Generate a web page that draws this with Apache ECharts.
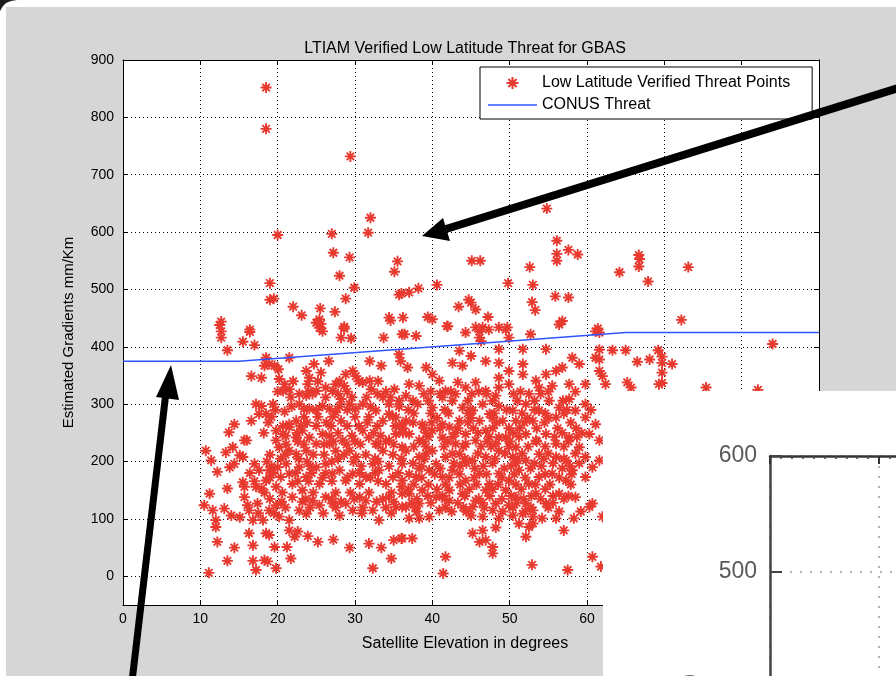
<!DOCTYPE html>
<html>
<head>
<meta charset="utf-8">
<script src="https://cdn.jsdelivr.net/npm/echarts@6/dist/echarts.min.js"></script>
<style>
  html, body { margin: 0; padding: 0; background: #fff; }
  #main { width: 896px; height: 676px; }
</style>
</head>
<body>
<div id="main"></div>
<script>
// sparse points above the CONUS line
const upperPoints = [
  [18.5,852],[18.5,780],[29.4,732],[32.0,625],[31.7,599],[20.0,595],[27.0,597],[27.2,564],[29.3,556],[28.0,524],
  [35.5,549],[35.1,531],[19.0,511],[29.9,503],[19.0,482],[19.5,484],[28.8,484],[35.7,491],[22.0,470],[23.1,455],
  [25.5,467],[25.4,448],[25.0,442],[25.6,440],[27.4,461],[28.6,435],[12.7,444],[12.5,438],[16.4,430],[34.4,451],
  [34.6,446],[36.2,451],
  [54.8,641],[56.1,585],[57.6,569],[58.8,561],[56.1,562],[56.1,550],[52.6,539],[45.1,550],[46.2,550],[40.6,508],
  [38.2,502],[37.0,495],[36.0,493],[49.8,511],[53.0,508],[55.9,488],[57.6,486],[52.9,478],[53.3,464],[56.8,445],
  [44.7,482],[45.0,477],[45.6,465],[43.4,470],[47.2,452],[39.4,452],[40.0,448],[41.9,436],[45.6,434],[46.5,434],
  [48.6,434],[49.7,434],[61.4,432]
];

// points right of 60 degrees
const rightPoints = [
  [66.7,560],[66.8,553],[66.7,540],[64.2,530],[67.9,514],[73.1,539],[72.2,447],[84.0,405],[63.3,394],[65.0,394],
  [69.2,394],[69.7,383],[69.7,372],[71.0,370],[66.5,374],[68.1,378],[69.7,355],[69.7,337],[69.3,335],[65.2,338],
  [65.7,329],[75.4,329],[82.1,325],[61.6,395],[61.6,378],[62.0,349],[62.4,335],[61.6,425]
];

// main cloud, 10..36 degrees
const leftCluster = [
  [12.7,427],[12.7,416],[16.4,426],[15.5,409],[17.0,403],[13.5,394],[25.4,433],[25.8,427],[28.6,432],[28.2,416],
  [29.5,415],[33.7,416],[36.1,422],
  [18.5,381],[18.9,370],[18.3,367],[19.6,367],[20.1,361],[16.6,349],[17.9,346],[21.5,381],[24.7,370],[23.7,358],
  [24.1,346],[25.6,355],[26.6,375],[29.7,358],[30.1,349],[28.8,352],[31.9,375],[33.4,367],[35.1,326],[35.7,387],[35.9,375],
  [20.2,344],[20.9,335],[21.5,326],[20.7,323],[22.8,318],[23.7,315],[24.5,318],[25.0,323],[23.9,335],[26.2,329],
  [27.1,323],[27.5,335],[28.6,332],[27.8,318],[28.2,309],[31.0,338],[31.9,341],[32.1,326],[32.9,318],[33.6,312],
  [34.4,300],[35.7,306],
  [17.2,300],[17.9,297],[17.6,283],[18.5,283],[16.6,271],[19.4,300],[20.9,287],[14.4,265],[13.7,251],[22.8,300],
  [23.4,292],[24.1,292],[21.5,265],[22.4,271],[25.8,297],[26.7,292],[27.5,286],[28.2,271],[29.3,300],[30.1,292],
  [31.0,300],[32.7,289],[33.6,271],[34.4,283],[35.3,277],[36.1,265],
  [19.8,254],[20.7,248],[21.5,260],[22.4,242],[23.2,254],[19.8,237],[20.2,225],[24.1,242],[25.0,231],[25.8,248],
  [21.5,219],[22.4,213],[23.7,219],[26.7,231],[27.5,219],[28.4,237],[29.3,219],[30.1,208],[31.0,254],[31.8,242],
  [32.7,231],[33.6,219],[34.4,237],[35.3,248],[36.1,225],[15.7,237],[16.0,237],[14.2,225],[13.3,216],[15.1,211],
  [15.5,208],[10.7,219],[11.4,202],
  [12.2,182],[13.5,153],[11.2,144],[13.8,190],[14.4,196],[15.5,164],[15.7,156],[17.0,196],[17.6,185],[17.2,156],
  [17.9,153],[18.5,167],[18.9,185],[20.0,190],[20.4,173],[19.8,156],[21.1,196],[21.5,179],[21.9,161],[22.8,190],
  [23.7,173],[23.2,150],[25.0,190],[25.4,161],[26.2,196],[27.1,179],[28.0,185],[28.8,167],[29.7,179],[30.6,161],
  [31.4,173],[32.3,196],[33.1,185],[34.0,161],[34.9,173],[36.0,156],[36.1,196],
  [10.5,124],[11.6,115],[12.0,98],[12.0,86],[13.1,118],[14.0,106],[15.1,103],[15.7,138],[16.1,124],[16.3,115],
  [16.8,98],[17.4,127],[18.1,98],[18.9,115],[19.8,124],[20.2,104],[21.5,98],[21.9,138],[22.8,115],[23.7,109],
  [24.5,132],[25.4,124],[26.2,138],[27.1,127],[28.0,106],[28.8,127],[29.7,115],[30.6,138],[31.4,132],[32.3,115],
  [33.1,98],[34.4,138],[35.3,121],[36.1,144],[36.1,121],
  [16.3,75],[18.5,75],[18.9,72],[16.8,54],[14.4,50],[12.2,60],[21.5,80],[22.2,69],[22.6,78],[21.2,51],
  [21.7,31],[13.5,27],[16.8,27],[18.3,28],[18.7,26],[17.2,11],[19.8,14],[19.6,51],[23.9,70],[25.2,60],
  [27.2,64],[29.3,50],[31.8,57],[33.4,50],[34.7,31],[32.3,14],[35.0,63],[36.0,66],[11.1,6]
];

// overlapping points in the dense part of the left cloud
const leftCore = [
  [22.0,340],[25.2,340],[28.0,340],[30.5,340],[33.0,340],
  [21.7,312],[26.2,312],[29.6,312],[31.5,312],[34.6,312],
  [21.8,296],[28.0,296],[32.0,296],[35.7,296],
  [19.2,278],[23.4,278],[25.2,278],[27.1,278],[30.0,278],[31.8,278],[34.9,278],
  [20.7,262],[23.0,262],[25.0,262],[26.9,262],[29.0,262],[30.5,262],[32.9,262],[35.2,262],
  [21.0,245],[26.7,245],[29.6,245],[33.3,245],
  [21.1,230],[23.4,230],[26.0,230],[28.9,230],[30.7,230],[33.0,230],[35.0,230],
  [19.0,212],[21.0,212],[24.6,212],[26.0,212],[28.6,212],[31.4,212],[34.9,212],
  [18.6,200],[23.8,200],[27.0,200],[29.8,200],[33.0,200],
  [16.4,180],[19.4,180],[22.3,180],[24.4,180],[26.2,180],[30.6,180],[32.6,180],[35.6,180],
  [17.0,166],[22.6,166],[24.0,166],[27.0,166],[33.0,166],
  [18.3,146],[20.6,146],[24.6,146],[27.5,146],[29.4,146],[31.8,146],[34.7,146],
  [20.5,130],[23.2,130],[28.2,130],[32.8,130],[35.0,130],
  [17.5,110],[19.5,110],[25.9,110],[30.9,110],[34.7,110]
];

// main cloud, 36..62 degrees
const centralCluster = [
  [36.4,422],[37.9,419],[42.0,436],[44.3,425],[46.1,427],[46.1,416],[47.3,430],[49.5,430],[49.9,416],[52.7,422],
  [54.7,396],[56.4,439],[61.1,427],[48.6,396],[51.7,396],[43.5,393],[45.0,384],[46.3,410],
  [36.8,364],[39.2,364],[40.0,352],[42.6,372],[43.9,367],[46.9,375],[48.6,372],[48.6,346],[49.9,358],[51.7,370],
  [51.7,352],[53.4,341],[54.7,352],[56.0,358],[56.8,364],[58.1,381],[59.0,370],[61.1,381],[61.6,358],[59.8,335],
  [57.7,335],[55.5,332],[53.8,329],[44.3,329],[45.6,338],[43.3,338],[40.9,341],[38.3,332],[36.6,315],[37.0,335],
  [41.7,323],[46.9,323],[48.6,329],[49.9,335],[48.2,315],
  [38.1,300],[40.0,294],[41.3,312],[42.6,306],[43.9,294],[45.2,289],[46.5,300],[47.4,283],[48.6,297],[50.4,289],
  [52.1,300],[53.8,289],[55.1,306],[56.4,294],[57.7,309],[58.5,289],[59.8,277],[61.1,265],[56.0,277],[53.0,271],
  [50.8,271],[49.1,271],[46.1,271],[43.5,271],[41.3,265],[38.7,265],[36.6,271],[59.8,300],
  [37.0,248],[38.3,237],[40.0,254],[41.3,242],[42.2,260],[43.0,231],[44.3,248],[45.6,237],[46.9,254],[48.2,231],
  [49.5,242],[50.8,225],[52.1,248],[53.4,237],[54.7,248],[56.0,231],[57.7,242],[59.0,225],[60.3,248],[61.6,237],
  [36.6,219],[38.3,208],[40.0,219],[41.7,208],[43.5,213],[45.2,202],[46.9,208],[48.6,219],[50.4,208],[52.1,202],
  [53.8,213],[56.0,208],[57.3,202],[59.8,208],[61.6,202],[40.5,196],[44.3,231],[48.6,242],
  [36.1,167],[37.9,173],[39.6,185],[41.3,173],[42.6,185],[44.3,167],[46.1,179],[47.4,161],[48.6,179],[49.9,167],
  [51.2,185],[52.5,161],[53.8,173],[55.5,179],[57.3,167],[58.1,185],[59.8,173],[60.7,190],[37.0,144],[38.7,150],
  [40.5,138],[42.2,150],[43.9,144],[45.6,132],[46.9,150],[48.2,127],[49.5,150],[50.8,138],[52.1,127],[53.4,144],
  [54.7,127],[56.4,144],[58.5,138],[60.7,127],[36.6,121],[38.3,127],[40.9,115],[45.2,121],[47.8,115],[53.0,115],
  [42.2,132],[49.9,124],
  [37.0,101],[38.3,101],[39.6,104],[45.0,106],[46.5,104],[48.6,101],[50.4,106],[51.7,109],[53.0,104],[54.2,101],
  [56.0,101],[58.3,101],[36.1,66],[37.4,66],[45.2,75],[46.5,80],[46.9,63],[48.2,85],[46.1,60],[52.1,69],
  [52.5,86],[53.0,92],[57.0,80],[47.8,51],[47.8,40],[41.7,34],[41.4,5],[52.9,20],[57.5,11],[60.7,34],
  [61.8,17],[51.2,92],[60.3,121],[62.0,104]
];

// overlapping points in the solid core around 40..55 degrees
const centralCore = [
  [38.9,318],[41.0,318],[43.0,318],[45.1,318],[47.0,318],[50.5,318],[52.5,318],[54.0,318],
  [37.5,306],[39.5,306],[44.6,306],[47.8,306],[51.0,306],[53.2,306],[56.9,306],
  [37.6,284],[39.8,284],[42.1,284],[44.6,284],[48.0,284],[51.6,284],[54.6,284],[57.0,284],
  [40.6,276],[45.0,276],[47.8,276],[52.3,276],[55.0,276],
  [36.2,258],[38.9,258],[41.0,258],[43.3,258],[45.3,258],[47.8,258],[49.9,258],[51.3,258],[53.5,258],[56.2,258],[58.6,258],
  [39.5,243],[42.6,243],[47.4,243],[51.2,243],[55.8,243],[58.7,243],
  [37.6,226],[39.2,226],[41.5,226],[44.0,226],[46.3,226],[47.6,226],[49.9,226],[52.4,226],[54.6,226],[57.0,226],
  [39.2,214],[42.6,214],[45.9,214],[49.4,214],[51.6,214],[55.0,214],[58.5,214],
  [37.5,197],[42.8,197],[44.4,197],[47.8,197],[50.8,197],[53.2,197],[55.6,197],[59.0,197],
  [38.3,188],[41.0,188],[45.5,188],[49.3,188],[52.7,188],[56.8,188],
  [37.0,178],[40.3,178],[43.5,178],[47.0,178],[50.6,178],[54.6,178],[58.0,178],
  [37.6,160],[39.5,160],[41.7,160],[43.6,160],[45.7,160],[48.5,160],[50.8,160],[53.3,160],[55.2,160],[57.9,160],
  [36.9,152],[40.6,152],[44.8,152],[47.8,152],[51.5,152],[54.6,152],
  [39.4,140],[41.3,140],[44.2,140],[47.4,140],[50.2,140],[52.8,140],[55.6,140],[57.6,140],
  [37.3,128],[39.8,128],[43.3,128],[46.5,128],[50.9,128],[55.6,128],
  [38.0,113],[42.5,113],[44.4,113],[49.1,113],[52.0,113],[56.4,113],[59.2,113]
];

// further overlapping points filling the solid band 120..320 mm/km
const bandFill = [
  [20.0,322],[24.0,322],[29.0,322],[34.0,322],[39.8,322],[42.4,322],[46.0,322],[51.4,322],[55.0,322],[58.5,322],
  [19.7,290],[25.0,290],[29.0,290],[36.9,290],[41.6,290],[44.9,290],[49.6,290],[53.2,290],[57.4,290],[60.5,290],
  [18.8,268],[23.8,268],[26.3,268],[31.6,268],[37.5,268],[39.9,268],[44.6,268],[48.3,268],[51.9,268],[54.5,268],[57.9,268],
  [18.2,250],[22.5,250],[27.8,250],[32.4,250],[36.2,250],[39.2,250],[43.0,250],[45.9,250],[50.4,250],[56.8,250],[59.3,250],
  [22.6,235],[27.2,235],[30.0,235],[34.0,235],[38.8,235],[42.0,235],[47.1,235],[50.0,235],[53.5,235],[57.6,235],
  [20.4,205],[22.7,205],[27.8,205],[32.6,205],[36.0,205],[39.0,205],[44.2,205],[48.1,205],[51.0,205],[54.4,205],[57.0,205],
  [19.2,192],[24.2,192],[30.8,192],[34.4,192],[38.6,192],[43.6,192],[46.6,192],[50.2,192],[54.1,192],[57.8,192],
  [19.0,172],[25.8,172],[29.0,172],[32.0,172],[38.6,172],[42.2,172],[45.4,172],[49.0,172],[52.0,172],[56.4,172],
  [19.0,135],[23.6,135],[27.0,135],[29.9,135],[33.6,135],[38.0,135],[41.6,135],[46.0,135],[49.0,135],[51.8,135],[54.0,135],[57.0,135],
  [21.0,120],[24.2,120],[27.5,120],[31.0,120],[34.0,120],[37.8,120],[41.7,120],[44.0,120],[46.7,120],[50.4,120],[52.7,120],[55.0,120]
];

// CONUS threat bound (mm/km) against elevation
const conusElev = [0, 15, 65, 90];
const conusBound = [375, 375, 425, 425];

const yTicks = [0, 100, 200, 300, 400, 500, 600, 700, 800, 900];

const starPath = 'path://M5,0L5,10M0,5L10,5M1.6,1.6L8.4,8.4M8.4,1.6L1.6,8.4';
const red = '#e8392f';
const blue = '#2f55ff';
const font = 'Liberation Sans, Arial, sans-serif';

const threatData = [].concat(upperPoints, rightPoints, leftCluster, leftCore, centralCluster, centralCore, bandFill);
const conusData = conusElev.map((e, i) => [e, conusBound[i]]);

const chart = echarts.init(document.getElementById('main'), null, { renderer: 'canvas' });

const mainAxisLine = { show: true, onZero: false, lineStyle: { color: '#000', width: 1 } };
const dotted = { show: true, lineStyle: { color: '#000', width: 1, type: [1, 3] } };

const option = {
  backgroundColor: '#ffffff',
  animation: false,
  title: {
    text: 'LTIAM Verified Low Latitude Threat for GBAS',
    left: 460,
    top: 36,
    textAlign: 'center',
    textStyle: { fontFamily: font, fontSize: 16, fontWeight: 'normal', color: '#000' }
  },
  legend: {
    orient: 'vertical',
    left: 480,
    top: 67,
    padding: [8, 22, 6, 8],
    itemGap: 6,
    itemWidth: 49,
    itemHeight: 12,
    backgroundColor: '#fff',
    borderColor: '#000',
    borderWidth: 1,
    borderRadius: 0,
    textStyle: { fontFamily: font, fontSize: 16, color: '#000' },
    data: [
      { name: 'Low Latitude Verified Threat Points' },
      { name: 'CONUS Threat', icon: 'path://M0,0L100,0L100,3L0,3Z', itemStyle: { color: blue } }
    ]
  },
  grid: [
    { left: 123, top: 60, width: 696, height: 545, show: true, backgroundColor: '#fff', borderWidth: 0, outerBoundsMode: 'none' },
    { left: 770, top: 456, width: 218, height: 232, show: false, outerBoundsMode: 'none' }
  ],
  xAxis: [
    {
      gridIndex: 0, type: 'value', min: 0, max: 90, interval: 10, position: 'bottom',
      name: 'Satellite Elevation in degrees', nameLocation: 'middle', nameGap: 31,
      nameTextStyle: { fontFamily: font, fontSize: 16, color: '#000', padding: [0, 12, 0, 0] },
      axisLine: mainAxisLine,
      axisTick: { show: true, inside: true, length: 5, lineStyle: { color: '#000' } },
      axisLabel: { fontFamily: font, fontSize: 14, color: '#000', margin: 7 },
      splitLine: dotted
    },
    {
      gridIndex: 0, type: 'value', min: 0, max: 90, interval: 10, position: 'top',
      axisLine: mainAxisLine,
      axisTick: { show: true, inside: true, length: 5, lineStyle: { color: '#000' } },
      axisLabel: { show: false },
      splitLine: { show: false }
    },
    {
      gridIndex: 1, type: 'value', min: 0, max: 2, interval: 1, position: 'top', z: 110,
      axisLine: { show: true, onZero: false, lineStyle: { color: '#333', width: 2.5 } },
      axisTick: { show: true, inside: true, length: 8, lineStyle: { color: '#333', width: 2 } },
      minorTick: { show: true, splitNumber: 10, length: 3, lineStyle: { color: '#444', width: 1.5 } },
      axisLabel: { show: false },
      splitLine: { show: true, lineStyle: { color: '#999', width: 1.5, type: [2, 8] } }
    }
  ],
  yAxis: [
    {
      gridIndex: 0, type: 'value', min: -50, max: 900, position: 'left',
      name: 'Estimated Gradients mm/Km', nameLocation: 'middle', nameGap: 47,
      nameTextStyle: { fontFamily: font, fontSize: 15, color: '#000' },
      axisLine: mainAxisLine,
      axisTick: { show: true, inside: true, length: 5, customValues: yTicks, lineStyle: { color: '#000' } },
      axisLabel: { fontFamily: font, fontSize: 14, color: '#000', margin: 9, customValues: yTicks },
      splitLine: dotted
    },
    {
      gridIndex: 0, type: 'value', min: -50, max: 900, position: 'right',
      axisLine: mainAxisLine,
      axisTick: { show: true, inside: true, length: 5, customValues: yTicks, lineStyle: { color: '#000' } },
      axisLabel: { show: false, customValues: yTicks },
      splitLine: { show: false }
    },
    {
      gridIndex: 1, type: 'value', min: 400, max: 600, interval: 100, position: 'left', z: 110,
      axisLine: { show: true, onZero: false, lineStyle: { color: '#444', width: 2.5 } },
      axisTick: { show: true, inside: true, length: 12, lineStyle: { color: '#444', width: 2 } },
      axisLabel: { fontFamily: font, fontSize: 23, color: '#5a5a5a', margin: 13 },
      splitLine: { show: true, lineStyle: { color: '#999', width: 1.5, type: [2, 8] } }
    }
  ],
  series: [
    {
      name: 'Low Latitude Verified Threat Points',
      type: 'scatter',
      xAxisIndex: 0, yAxisIndex: 0,
      symbol: starPath,
      symbolSize: 11,
      symbolKeepAspect: true,
      itemStyle: { color: 'rgba(0,0,0,0)', borderColor: red, borderWidth: 1.9, opacity: 1 },
      data: threatData,
      z: 3
    },
    {
      name: 'CONUS Threat',
      type: 'line',
      xAxisIndex: 0, yAxisIndex: 0,
      symbol: 'none',
      showSymbol: false,
      lineStyle: { color: blue, width: 1.5 },
      itemStyle: { color: blue },
      data: conusData,
      z: 4
    }
  ],
  graphic: [
    // figure window background
    { type: 'rect', z: -10, silent: true, shape: { x: 6, y: 7, width: 900, height: 680 }, style: { fill: '#d6d6d6' } },
    { type: 'polygon', z: -9, silent: true, shape: { points: [[0, 0], [17, 0], [11, 1], [6, 3], [3, 6], [0, 11]] }, style: { fill: '#1c1c1c' } },
    // inset picture
    { type: 'rect', z: 100, silent: true, shape: { x: 603, y: 391, width: 300, height: 290 }, style: { fill: '#fff' } },
    { type: 'circle', z: 112, silent: true, shape: { cx: 690, cy: 690, r: 14 }, style: { fill: 'none', stroke: '#666', lineWidth: 2 } },
    // arrow to upper points
    { type: 'line', z: 150, silent: true, shape: { x1: 446, y1: 229, x2: 905, y2: 86 }, style: { stroke: '#000', lineWidth: 8 } },
    { type: 'polygon', z: 150, silent: true, shape: { points: [[422, 236], [443, 218], [450, 241]] }, style: { fill: '#000' } },
    // arrow to CONUS line
    { type: 'line', z: 150, silent: true, shape: { x1: 166, y1: 392, x2: 131, y2: 690 }, style: { stroke: '#000', lineWidth: 7 } },
    { type: 'polygon', z: 150, silent: true, shape: { points: [[171, 365], [179, 400], [156, 397]] }, style: { fill: '#000' } }
  ]
};

chart.setOption(option);
</script>
</body>
</html>
